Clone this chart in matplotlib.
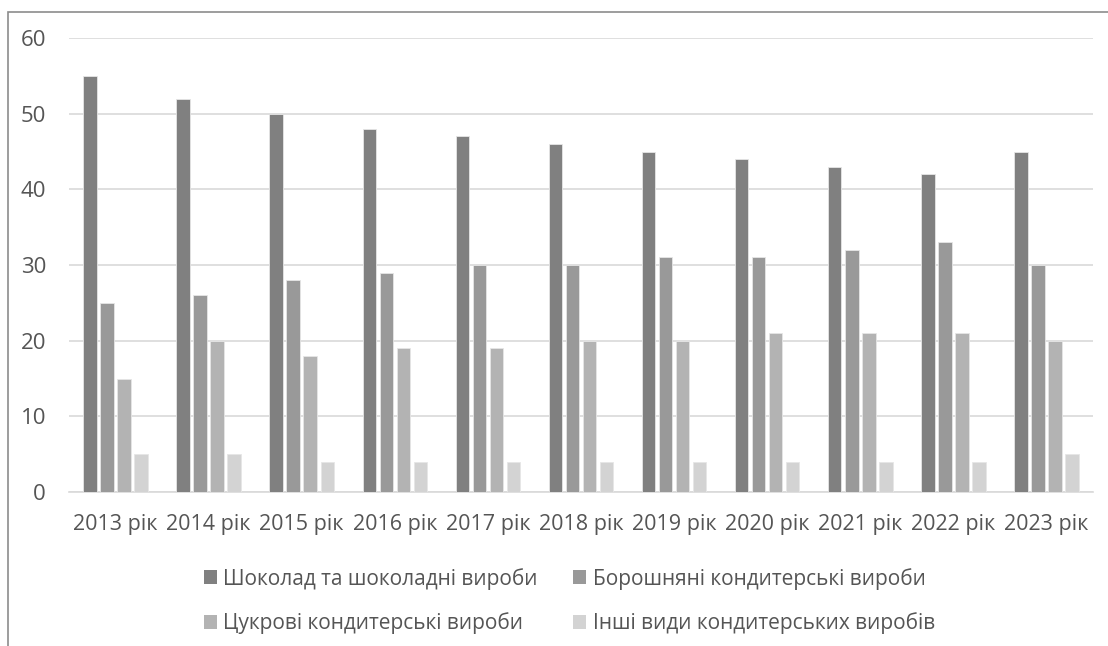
import matplotlib.pyplot as plt
import numpy as np
from matplotlib.patches import Rectangle, Patch

years = ['2013 рік', '2014 рік', '2015 рік', '2016 рік', '2017 рік', '2018 рік',
         '2019 рік', '2020 рік', '2021 рік', '2022 рік', '2023 рік']
series_names = ['Шоколад та шоколадні вироби', 'Борошняні кондитерські вироби',
                'Цукрові кондитерські вироби', 'Інші види кондитерських виробів']
chocolate = [55, 52, 50, 48, 47, 46, 45, 44, 43, 42, 45]
flour = [25, 26, 28, 29, 30, 30, 31, 31, 32, 33, 30]
sugar = [15, 20, 18, 19, 19, 20, 20, 21, 21, 21, 20]
other = [5, 5, 4, 4, 4, 4, 4, 4, 4, 4, 5]
colors = ['#808080', '#999999', '#b3b3b3', '#d3d3d3']

plt.rcParams['font.family'] = ['Open Sans', 'DejaVu Sans']
text_color = '#555555'

fig = plt.figure(figsize=(11.08, 6.46), dpi=100)
# outer chart frame (runs off the right and bottom edges)
fig.patches.append(Rectangle((8 / 1108, -0.1), 1.2, 1 - 12 / 646 + 0.1,
                             transform=fig.transFigure, fill=False,
                             edgecolor='#8c8c8c', linewidth=1.2))

ax = fig.add_axes([69 / 1108, 1 - 492 / 646, 1024 / 1108, 454 / 646])
x = np.arange(len(years))
step = 0.183
width = 0.145
for i, (vals, name) in enumerate(zip([chocolate, flour, sugar, other], series_names)):
    ax.bar(x + (i - 1.5) * step, vals, width, color=colors[i], label=name,
           edgecolor='#e6e6e6', linewidth=0.6, zorder=3)

ax.set_xlim(-0.5, len(years) - 0.5)
ax.set_ylim(0, 60)
ax.set_yticks(range(0, 61, 10))
ax.set_xticks(x)
ax.set_xticklabels(years)
ax.yaxis.grid(True, color='#d9d9d9', linewidth=1.2, zorder=0)
for s in ['top', 'right', 'left']:
    ax.spines[s].set_visible(False)
ax.spines['bottom'].set_color('#d9d9d9')
ax.spines['bottom'].set_linewidth(1.2)
ax.tick_params(axis='both', length=0, labelsize=16, colors=text_color)
ax.tick_params(axis='x', labelsize=15.5, pad=16)
ax.tick_params(axis='y', pad=16.5)

# legend is filled row by row in the reference
order = [0, 2, 1, 3]
handles = [Patch(facecolor=colors[k]) for k in order]
labels = [series_names[k] for k in order]
fig.legend(handles, labels, loc='center', bbox_to_anchor=(0.514, 1 - 601 / 646),
           ncol=2, frameon=False, fontsize=15, labelcolor=text_color,
           handlelength=0.62, handleheight=0.62, handletextpad=0.3,
           columnspacing=1.7, labelspacing=1.1, borderpad=0)

plt.savefig('out.png', dpi=100)
